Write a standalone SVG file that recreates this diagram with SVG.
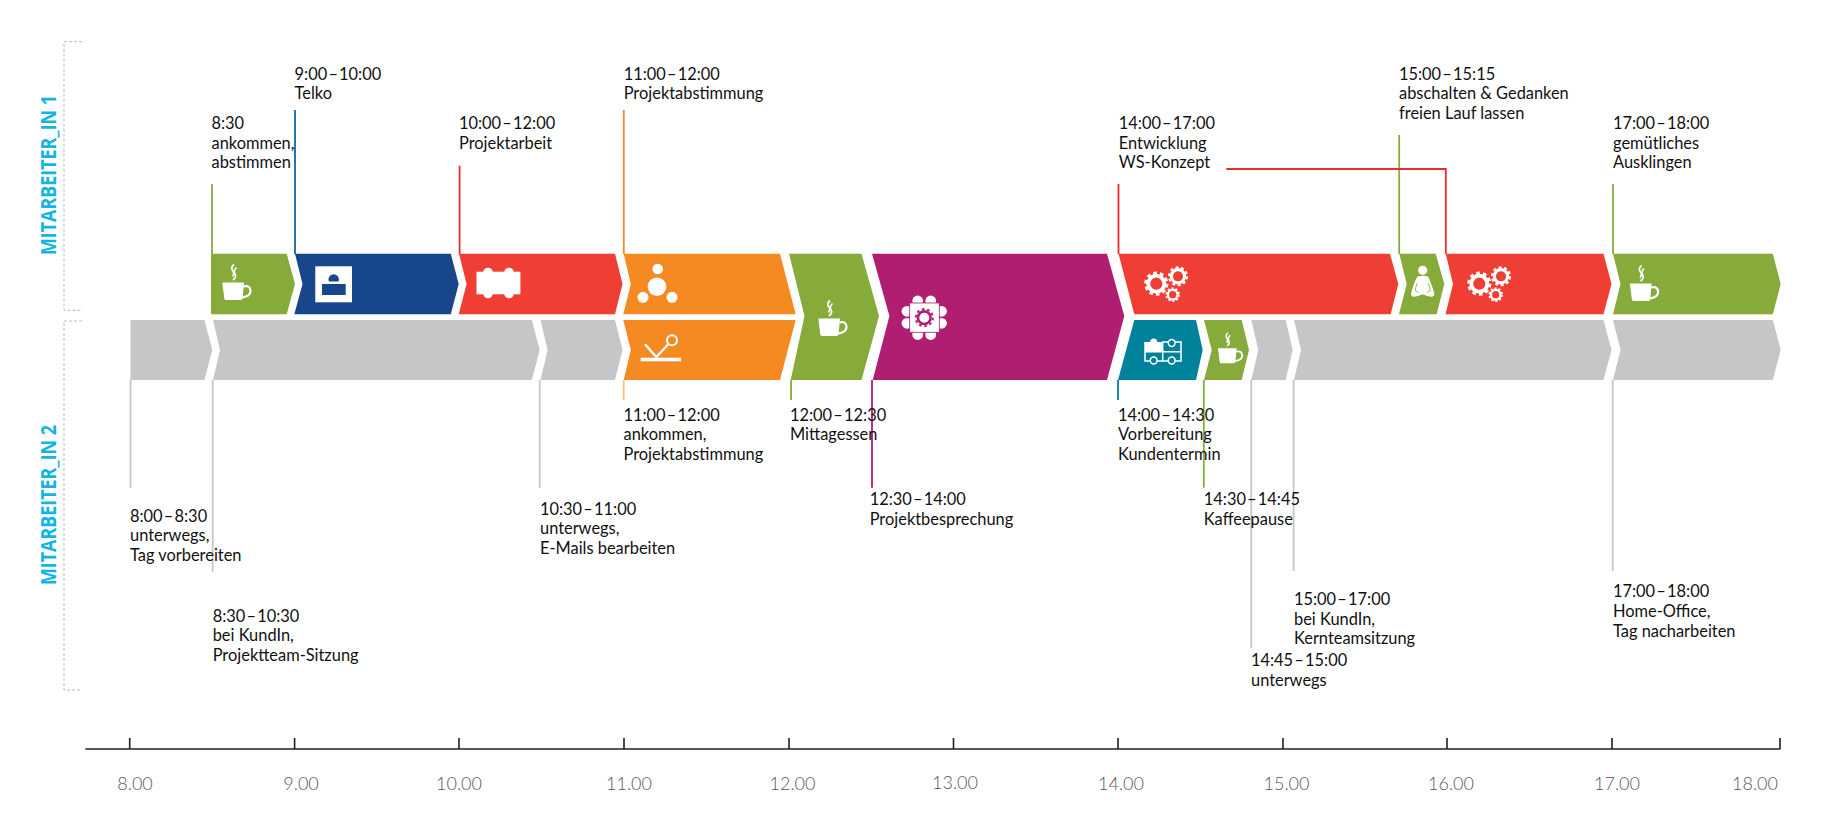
<svg xmlns="http://www.w3.org/2000/svg" xmlns:xlink="http://www.w3.org/1999/xlink" width="1840" height="820" viewBox="0 0 1840 820">
<style>
text{font-family:"Lato","Liberation Sans",sans-serif}
.t{font-size:16.4px;fill:#111;transform:translateY(.7px)}
.h{word-spacing:-3px}
.ax{font-size:18px;fill:#58595b;font-weight:300;text-anchor:middle}
.who{font-size:20.5px;fill:#12b5e4;font-weight:700;font-family:"Open Sans","Liberation Sans",sans-serif}
.gn{fill:#86ab3b}.bl{fill:#17468a}.rd{fill:#ef3f35}.or{fill:#f68a22}.pu{fill:#b01e72}.te{fill:#00829b}.gy{fill:#c5c6c8}
.w{fill:#fff}
.c{fill:none;stroke-width:1.8}
.cgn{stroke:#86ab3b}.cbl{stroke:#0f659f}.crd{stroke:#ed2b2d}.cor{stroke:#f68a22}.cpu{stroke:#b01e72}.cte{stroke:#00829b}.cgy{stroke:#c5c6c8}
.br{fill:none;stroke:#b9b9b9;stroke-width:1;stroke-dasharray:3 2}
.ws{fill:none;stroke:#fff}
</style>
<defs>
<g id="cup">
<path class="w" d="M0.3 18.5H22L20.6 34.5Q20.2 36 18.5 36H4.2Q2.6 36 2.3 34.5Z"/>
<path class="ws" stroke-width="2.2" d="M21.5 22.5Q28.5 21 28.5 27Q28.5 32 20.5 33.5"/>
<path class="ws" stroke-width="1.7" d="M12 0.5Q8.5 3.5 10.5 6.5Q13 9.5 10.5 12.5"/>
<path class="ws" stroke-width="1.7" d="M14.5 3.5Q11 7 13 10Q15 12.5 11 16"/>
</g>
<g id="gear">
<circle class="ws" cx="0" cy="0" r="8" stroke-width="3.8"/>
<circle class="ws" cx="0" cy="0" r="10.6" stroke-width="3" stroke-dasharray="3.6 3.06"/>
</g>
<g id="gears">
<use xlink:href="#gear"/>
<use xlink:href="#gear" transform="translate(21.7,-7.4) scale(.83)"/>
<use xlink:href="#gear" transform="translate(16.4,11) scale(.6)"/>
</g>
</defs>

<g id="connectors">
<path class="c cgn" d="M212 184V254"/>
<path class="c cbl" d="M295 110V254"/>
<path class="c crd" d="M459.6 165.7V254"/>
<path class="c cor" d="M623.8 110V254"/>
<path class="c crd" d="M1118.5 184V254"/>
<path class="c cgn" d="M1399.2 135V254"/>
<path class="c crd" d="M1226.3 169H1445.8V254"/>
<path class="c cgn" d="M1613 184V254"/>
<path class="c cgy" d="M130.5 380V487.7"/>
<path class="c cgy" d="M212.7 380V572"/>
<path class="c cgy" d="M539.7 380V487.7"/>
<path class="c cor" opacity=".55" d="M623.7 380V400"/>
<path class="c cgn" d="M791 380V400"/>
<path class="c cpu" d="M872 380V487.7"/>
<path class="c cte" d="M1118 380V400"/>
<path class="c cgn" d="M1203.8 380V487.7"/>
<path class="c cgy" d="M1251.2 380V648"/>
<path class="c cgy" d="M1293.6 380V571"/>
<path class="c cgy" d="M1612.7 380V571"/>
</g>

<g id="lane1">
<path class="br" d="M82 41.7H64V310.3H82"/>
<text class="who" transform="translate(55.5,255) rotate(-90)" textLength="160" lengthAdjust="spacingAndGlyphs">MITARBEITER_IN 1</text>
</g>
<g id="lane2">
<path class="br" d="M82 321H64V690H82"/>
<text class="who" transform="translate(55.5,585) rotate(-90)" textLength="160" lengthAdjust="spacingAndGlyphs">MITARBEITER_IN 2</text>
</g>

<g id="m1-kaffee1">
<polygon class="gn" points="211,253.7 286.7,253.7 295,284 286.7,314.3 211,314.3"/>
<use xlink:href="#cup" x="222" y="264"/>
<text class="t" x="211.5" y="128.5">8:30</text><text class="t" x="211.5" y="148">ankommen,</text><text class="t" x="211.5" y="167.3">abstimmen</text>
</g>
<g id="m1-telko">
<polygon class="bl" points="295,253.7 450.8,253.7 458.7,284 450.8,314.3 294.3,314.3 302.5,284"/>
<rect class="w" x="315.3" y="266.3" width="36.7" height="36"/>
<circle class="bl" cx="333.7" cy="279.5" r="5.2"/>
<rect class="w" x="320" y="281.5" width="28" height="3"/>
<rect class="bl" x="322" y="284" width="23.7" height="11"/>
<text class="t h" x="294.6" y="79">9:00 – 10:00</text><text class="t" x="294.6" y="98.7">Telko</text>
</g>
<g id="m1-projektarbeit">
<polygon class="rd" points="459,253.7 615,253.7 622.5,284 615,314.3 458.7,314.3 466.6,284"/>
<rect class="w" x="476.5" y="271.7" width="43.9" height="22.6"/>
<circle class="w" cx="488" cy="272.5" r="4.8"/><circle class="w" cx="509" cy="272.5" r="4.8"/>
<circle class="w" cx="488" cy="293.5" r="4.8"/><circle class="w" cx="509" cy="293.5" r="4.8"/>
<text class="t h" x="459" y="128.5">10:00 – 12:00</text><text class="t" x="459" y="148">Projektarbeit</text>
</g>
<g id="m1-projektabstimmung">
<polygon class="or" points="623.7,253.7 780,253.7 795.7,314.3 623.3,314.3 630.8,284"/>
<circle class="w" cx="657" cy="286.7" r="9.3"/><circle class="w" cx="657.7" cy="269" r="5.3"/>
<circle class="w" cx="643" cy="297.3" r="5.5"/><circle class="w" cx="672" cy="297.3" r="5.5"/>
<text class="t h" x="623.7" y="79">11:00 – 12:00</text><text class="t" x="623.7" y="98.7">Projektabstimmung</text>
</g>
<g id="m2-projektabstimmung">
<polygon class="or" points="623.3,320 795.7,320 780,380 623.7,380 630.8,350"/>
<rect class="w" x="640.7" y="357.7" width="40.3" height="3.6"/>
<path class="ws" stroke-width="2.4" d="M645 344.3L656.3 357L668.5 344"/>
<circle class="ws" stroke-width="2" cx="672" cy="340.3" r="5"/>
<text class="t h" x="623.5" y="420">11:00 – 12:00</text><text class="t" x="623.5" y="439.5">ankommen,</text><text class="t" x="623.5" y="459">Projektabstimmung</text>
</g>
<g id="mittagessen">
<polygon class="gn" points="789,253.7 861.5,253.7 879,316 861.5,380 790.7,380 804.5,316"/>
<use xlink:href="#cup" x="818" y="300"/>
<text class="t h" x="790" y="420">12:00 – 12:30</text><text class="t" x="790" y="439.5">Mittagessen</text>
</g>
<g id="projektbesprechung">
<polygon class="pu" points="872,253.7 1107,253.7 1124.3,316 1107,380 872.7,380 889.4,316"/>
<circle class="w" cx="917.7" cy="301" r="5.4"/><circle class="w" cx="930.7" cy="301" r="5.4"/>
<circle class="w" cx="917.7" cy="334.5" r="5.4"/><circle class="w" cx="930.7" cy="334.5" r="5.4"/>
<circle class="w" cx="907" cy="311.3" r="5.4"/><circle class="w" cx="907" cy="323.3" r="5.4"/>
<circle class="w" cx="941.5" cy="311.3" r="5.4"/><circle class="w" cx="941.5" cy="323.3" r="5.4"/>
<rect class="w" x="909.7" y="303" width="29.6" height="29.3" stroke="#b01e72" stroke-width=".8"/>
<circle cx="924.3" cy="317.7" r="6.3" fill="none" stroke="#b01e72" stroke-width="2.6"/>
<circle cx="924.3" cy="317.7" r="8.6" fill="none" stroke="#b01e72" stroke-width="2" stroke-dasharray="2.6 2.8"/>
<text class="t h" x="869.7" y="504.7">12:30 – 14:00</text><text class="t" x="869.7" y="524">Projektbesprechung</text>
</g>
<g id="m1-entwicklung1">
<polygon class="rd" points="1118.5,253.7 1390,253.7 1398.3,284 1390.7,314.3 1134.3,314.3"/>
<use xlink:href="#gears" x="1156.3" y="283.7"/>
<text class="t h" x="1118.8" y="128.5">14:00 – 17:00</text><text class="t" x="1118.8" y="148">Entwicklung</text><text class="t" x="1118.8" y="167.3">WS-Konzept</text>
</g>
<g id="m1-abschalten">
<polygon class="gn" points="1399.3,253.7 1435.7,253.7 1444.3,284 1436.7,314.3 1399,314.3 1406.7,284"/>
<circle class="w" cx="1422.7" cy="270.3" r="4.6"/>
<path class="w" d="M1417.5 276.5Q1422.7 275 1428 276.5Q1430 280 1434 292Q1435.5 296.7 1431 296.7Q1426 296.3 1422.7 294.3Q1419.3 296.3 1414.3 296.7Q1410 296.7 1411.4 292Q1415 280 1417.5 276.5Z"/>
<path fill="none" stroke="#86ab3b" stroke-width=".8" d="M1417 283L1415 290.5L1418.5 292.5M1428.4 283L1430.4 290.5L1427 292.5"/>
<text class="t h" x="1399" y="79">15:00 – 15:15</text><text class="t" x="1399" y="98.7">abschalten &amp; Gedanken</text><text class="t" x="1399" y="118">freien Lauf lassen</text>
</g>
<g id="m1-entwicklung2">
<polygon class="rd" points="1445.7,253.7 1603.5,253.7 1611.5,284 1603.5,314.3 1445.5,314.3 1453,284"/>
<use xlink:href="#gears" x="1479.3" y="283.7"/>
</g>
<g id="m1-ausklingen">
<polygon class="gn" points="1613,253.7 1772.8,253.7 1780.7,284 1772.8,314.3 1613,314.3 1620.5,284"/>
<use xlink:href="#cup" x="1629.6" y="265"/>
<text class="t h" x="1613" y="128.5">17:00 – 18:00</text><text class="t" x="1613" y="148">gemütliches</text><text class="t" x="1613" y="167.3">Ausklingen</text>
</g>
<g id="m2-unterwegs1">
<polygon class="gy" points="130.5,320 204.4,320 212.3,350 204.4,380 130.5,380"/>
<text class="t h" x="130" y="521">8:00 – 8:30</text><text class="t" x="130" y="540.7">unterwegs,</text><text class="t" x="130" y="560">Tag vorbereiten</text>
</g>
<g id="m2-kundin1">
<polygon class="gy" points="213,320 531.8,320 539.7,350 531.8,380 213,380 220,350"/>
<text class="t h" x="212.7" y="621">8:30 – 10:30</text><text class="t" x="212.7" y="640.7">bei KundIn,</text><text class="t" x="212.7" y="660">Projektteam-Sitzung</text>
</g>
<g id="m2-unterwegs2">
<polygon class="gy" points="540.5,320 615,320 622.5,350 615,380 540.5,380 547.6,350"/>
<text class="t h" x="540" y="514.3">10:30 – 11:00</text><text class="t" x="540" y="533.5">unterwegs,</text><text class="t" x="540" y="553">E-Mails bearbeiten</text>
</g>
<g id="m2-vorbereitung">
<polygon class="te" points="1134.3,320 1196,320 1202.7,350 1196,380 1118,380"/>
<rect class="w" x="1145" y="342" width="17.7" height="10"/>
<circle class="w" cx="1153.7" cy="342" r="3.6"/>
<path class="ws" stroke-width="1.5" d="M1145 342V361H1181V342H1162.7V361M1145 351.8H1181"/>
<circle class="te" cx="1171.7" cy="343" r="3.4" stroke="#fff" stroke-width="1.5"/>
<circle class="te" cx="1153.7" cy="360.5" r="3.4" stroke="#fff" stroke-width="1.5"/>
<circle class="te" cx="1171.7" cy="360.5" r="3.4" stroke="#fff" stroke-width="1.5"/>
<text class="t h" x="1118" y="420">14:00 – 14:30</text><text class="t" x="1118" y="439.5">Vorbereitung</text><text class="t" x="1118" y="459">Kundentermin</text>
</g>
<g id="m2-kaffeepause">
<polygon class="gn" points="1204,320 1241.7,320 1249,350 1241.7,380 1204,380 1211.7,350"/>
<use xlink:href="#cup" transform="translate(1217.7,332.3) scale(.86)"/>
<text class="t h" x="1203.8" y="504.7">14:30 – 14:45</text><text class="t" x="1203.8" y="524">Kaffeepause</text>
</g>
<g id="m2-unterwegs3">
<polygon class="gy" points="1251.3,320 1285.7,320 1292.7,350 1285.7,380 1251.3,380 1258.3,350"/>
<text class="t h" x="1251" y="665.7">14:45 – 15:00</text><text class="t" x="1251" y="685">unterwegs</text>
</g>
<g id="m2-kundin2">
<polygon class="gy" points="1294,320 1603.5,320 1611.5,350 1603.5,380 1294,380 1301,350"/>
<text class="t h" x="1294" y="604.3">15:00 – 17:00</text><text class="t" x="1294" y="624">bei KundIn,</text><text class="t" x="1294" y="643.3">Kernteamsitzung</text>
</g>
<g id="m2-homeoffice">
<polygon class="gy" points="1613,320 1772.8,320 1780.7,350 1772.8,380 1613,380 1620.5,350"/>
<text class="t h" x="1613" y="596.7">17:00 – 18:00</text><text class="t" x="1613" y="616.5">Home-Office,</text><text class="t" x="1613" y="636">Tag nacharbeiten</text>
</g>

<g id="axis">
<path fill="none" stroke="#231f20" stroke-width="1.6" d="M85.4 749H1780.5M129.7 738V749M294.6 738V749M459 738V749M624 738V749M789 738V749M953.5 738V749M1118 738V749M1283 738V749M1447 738V749M1612 738V749M1780 738V749"/>
<text class="ax" x="135" y="790">8.00</text>
<text class="ax" x="301" y="790">9.00</text>
<text class="ax" x="459" y="790">10.00</text>
<text class="ax" x="629" y="790">11.00</text>
<text class="ax" x="792.5" y="790">12.00</text>
<text class="ax" x="955" y="788.5">13.00</text>
<text class="ax" x="1121" y="790">14.00</text>
<text class="ax" x="1286.5" y="790">15.00</text>
<text class="ax" x="1451" y="790">16.00</text>
<text class="ax" x="1617" y="790">17.00</text>
<text class="ax" x="1755" y="790">18.00</text>
</g>
</svg>
